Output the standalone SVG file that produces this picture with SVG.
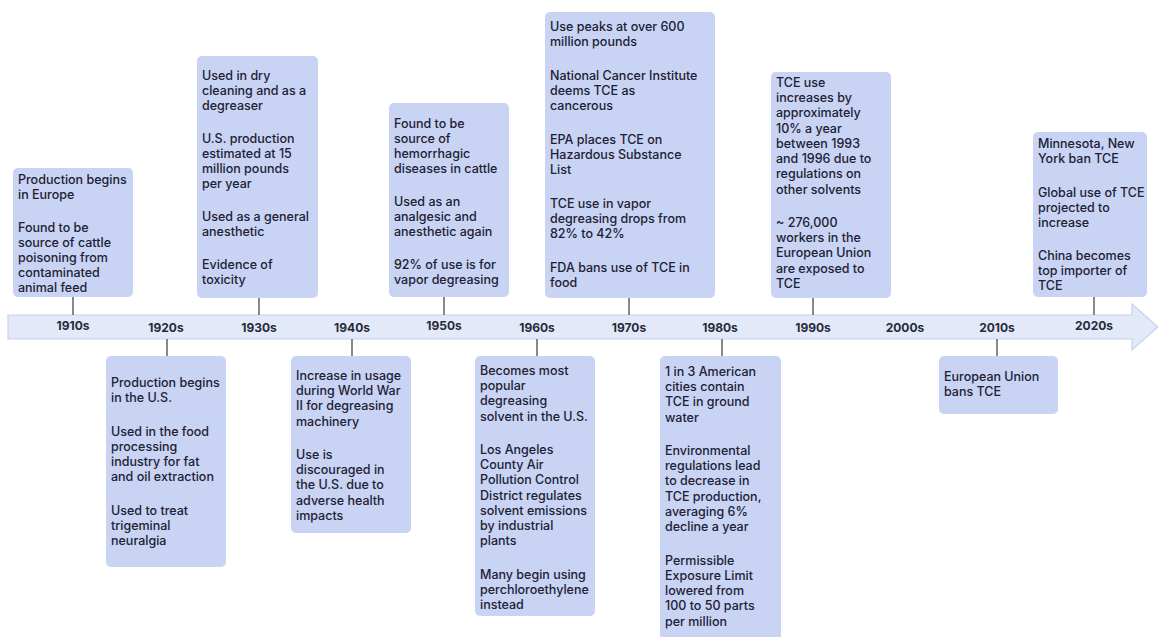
<svg xmlns="http://www.w3.org/2000/svg" width="1158" height="637" viewBox="0 0 1158 637">
<style>
.box{fill:#c9d3f4;}
.t{font-family:Inter,Roboto,"Liberation Sans",sans-serif;font-size:12.5px;font-weight:500;fill:#1c2133;}
.yr{font-family:Inter,Roboto,"Liberation Sans",sans-serif;font-size:12px;font-weight:700;fill:#262a3a;text-anchor:middle;}
.c{stroke:#4a4a4a;stroke-width:1.3;fill:none;}
</style>
<rect width="1158" height="637" fill="#ffffff"/>
<g id="timeline">
<path d="M8,315 H1132 V304 L1158,327 L1132,350 V339 H8 Z" fill="#e3e9f8" stroke="#c7d1ef" stroke-width="1.2"/>
<text class="yr" x="73" y="330">1910s</text>
<text class="yr" x="166" y="332">1920s</text>
<text class="yr" x="259" y="332">1930s</text>
<text class="yr" x="352" y="332">1940s</text>
<text class="yr" x="444" y="330">1950s</text>
<text class="yr" x="537" y="332">1960s</text>
<text class="yr" x="629" y="332">1970s</text>
<text class="yr" x="720" y="332">1980s</text>
<text class="yr" x="813" y="332">1990s</text>
<text class="yr" x="905" y="332">2000s</text>
<text class="yr" x="997" y="332">2010s</text>
<text class="yr" x="1094" y="330">2020s</text>
</g>
<g id="connectors">
<line class="c" x1="73" y1="297" x2="73" y2="315"/>
<line class="c" x1="259" y1="298" x2="259" y2="315"/>
<line class="c" x1="444" y1="297" x2="444" y2="315"/>
<line class="c" x1="629" y1="298" x2="629" y2="315"/>
<line class="c" x1="813" y1="298" x2="813" y2="315"/>
<line class="c" x1="1094" y1="297" x2="1094" y2="315"/>
<line class="c" x1="167" y1="339" x2="167" y2="356"/>
<line class="c" x1="352" y1="339" x2="352" y2="356"/>
<line class="c" x1="537" y1="339" x2="537" y2="356"/>
<line class="c" x1="722" y1="339" x2="722" y2="356"/>
<line class="c" x1="997" y1="339" x2="997" y2="356"/>
</g>
<g id="n1910s">
<rect class="box" x="13" y="168" width="120" height="129" rx="5"/>
<text class="t" x="18"><tspan x="18" y="184">Production begins</tspan><tspan x="18" y="199">in Europe</tspan><tspan x="18" y="232">Found to be</tspan><tspan x="18" y="247">source of cattle</tspan><tspan x="18" y="262">poisoning from</tspan><tspan x="18" y="277">contaminated</tspan><tspan x="18" y="292">animal feed</tspan></text>
</g>
<g id="n1930s">
<rect class="box" x="197" y="56" width="121" height="242" rx="5"/>
<text class="t"><tspan x="202" y="80">Used in dry</tspan><tspan x="202" y="95">cleaning and as a</tspan><tspan x="202" y="110">degreaser</tspan><tspan x="202" y="143">U.S. production</tspan><tspan x="202" y="158">estimated at 15</tspan><tspan x="202" y="173">million pounds</tspan><tspan x="202" y="188">per year</tspan><tspan x="202" y="221">Used as a general</tspan><tspan x="202" y="236">anesthetic</tspan><tspan x="202" y="269">Evidence of</tspan><tspan x="202" y="284">toxicity</tspan></text>
</g>
<g id="n1950s">
<rect class="box" x="389" y="103" width="120" height="194" rx="5"/>
<text class="t"><tspan x="394" y="128">Found to be</tspan><tspan x="394" y="143">source of</tspan><tspan x="394" y="158">hemorrhagic</tspan><tspan x="394" y="173">diseases in cattle</tspan><tspan x="394" y="206">Used as an</tspan><tspan x="394" y="221">analgesic and</tspan><tspan x="394" y="236">anesthetic again</tspan><tspan x="394" y="269">92% of use is for</tspan><tspan x="394" y="284">vapor degreasing</tspan></text>
</g>
<g id="n1970s">
<rect class="box" x="545" y="12" width="170" height="286" rx="5"/>
<text class="t"><tspan x="550" y="31">Use peaks at over 600</tspan><tspan x="550" y="46">million pounds</tspan><tspan x="550" y="79.5">National Cancer Institute</tspan><tspan x="550" y="94.7">deems TCE as</tspan><tspan x="550" y="110">cancerous</tspan><tspan x="550" y="143.5">EPA places TCE on</tspan><tspan x="550" y="158.7">Hazardous Substance</tspan><tspan x="550" y="174">List</tspan><tspan x="550" y="207.5">TCE use in vapor</tspan><tspan x="550" y="222.7">degreasing drops from</tspan><tspan x="550" y="238">82% to 42%</tspan><tspan x="550" y="271.5">FDA bans use of TCE in</tspan><tspan x="550" y="286.7">food</tspan></text>
</g>
<g id="n1990s">
<rect class="box" x="771" y="72" width="120" height="226" rx="5"/>
<text class="t"><tspan x="776" y="87">TCE use</tspan><tspan x="776" y="102">increases by</tspan><tspan x="776" y="117">approximately</tspan><tspan x="776" y="132.5">10% a year</tspan><tspan x="776" y="147.7">between 1993</tspan><tspan x="776" y="163">and 1996 due to</tspan><tspan x="776" y="178">regulations on</tspan><tspan x="776" y="193.5">other solvents</tspan><tspan x="776" y="227">~ 276,000</tspan><tspan x="776" y="242">workers in the</tspan><tspan x="776" y="257">European Union</tspan><tspan x="776" y="272.5">are exposed to</tspan><tspan x="776" y="287.5">TCE</tspan></text>
</g>
<g id="n2020s">
<rect class="box" x="1033" y="132" width="114" height="165" rx="5"/>
<text class="t"><tspan x="1038" y="148">Minnesota, New</tspan><tspan x="1038" y="163">York ban TCE</tspan><tspan x="1038" y="196.5">Global use of TCE</tspan><tspan x="1038" y="211.7">projected to</tspan><tspan x="1038" y="227">increase</tspan><tspan x="1038" y="260">China becomes</tspan><tspan x="1038" y="275">top importer of</tspan><tspan x="1038" y="290">TCE</tspan></text>
</g>
<g id="n1920s">
<rect class="box" x="106" y="356" width="120" height="211" rx="5"/>
<text class="t"><tspan x="111" y="387">Production begins</tspan><tspan x="111" y="402">in the U.S.</tspan><tspan x="111" y="435.5">Used in the food</tspan><tspan x="111" y="450.7">processing</tspan><tspan x="111" y="466">industry for fat</tspan><tspan x="111" y="481">and oil extraction</tspan><tspan x="111" y="514.5">Used to treat</tspan><tspan x="111" y="529.7">trigeminal</tspan><tspan x="111" y="545">neuralgia</tspan></text>
</g>
<g id="n1940s">
<rect class="box" x="291" y="356" width="120" height="177" rx="5"/>
<text class="t"><tspan x="296" y="380">Increase in usage</tspan><tspan x="296" y="395">during World War</tspan><tspan x="296" y="410">II for degreasing</tspan><tspan x="296" y="425.5">machinery</tspan><tspan x="296" y="459">Use is</tspan><tspan x="296" y="474">discouraged in</tspan><tspan x="296" y="489">the U.S. due to</tspan><tspan x="296" y="504.5">adverse health</tspan><tspan x="296" y="519.5">impacts</tspan></text>
</g>
<g id="n1960s">
<rect class="box" x="475" y="356" width="120" height="260" rx="5"/>
<text class="t"><tspan x="480" y="375">Becomes most</tspan><tspan x="480" y="390">popular</tspan><tspan x="480" y="405">degreasing</tspan><tspan x="480" y="420.5">solvent in the U.S.</tspan><tspan x="480" y="454">Los Angeles</tspan><tspan x="480" y="469">County Air</tspan><tspan x="480" y="484">Pollution Control</tspan><tspan x="480" y="499.5">District regulates</tspan><tspan x="480" y="514.7">solvent emissions</tspan><tspan x="480" y="530">by industrial</tspan><tspan x="480" y="545">plants</tspan><tspan x="480" y="578.5">Many begin using</tspan><tspan x="480" y="593.7">perchloroethylene</tspan><tspan x="480" y="609">instead</tspan></text>
</g>
<g id="n1980s">
<rect class="box" x="660" y="356" width="121" height="290" rx="5"/>
<text class="t"><tspan x="665" y="376">1 in 3 American</tspan><tspan x="665" y="391">cities contain</tspan><tspan x="665" y="406">TCE in ground</tspan><tspan x="665" y="421.5">water</tspan><tspan x="665" y="455">Environmental</tspan><tspan x="665" y="470">regulations lead</tspan><tspan x="665" y="485">to decrease in</tspan><tspan x="665" y="500.5">TCE production,</tspan><tspan x="665" y="515.7">averaging 6%</tspan><tspan x="665" y="531">decline a year</tspan><tspan x="665" y="564.5">Permissible</tspan><tspan x="665" y="579.7">Exposure Limit</tspan><tspan x="665" y="595">lowered from</tspan><tspan x="665" y="610">100 to 50 parts</tspan><tspan x="665" y="625.5">per million</tspan></text>
</g>
<g id="n2010s">
<rect class="box" x="939" y="356" width="119" height="58" rx="5"/>
<text class="t"><tspan x="944" y="381">European Union</tspan><tspan x="944" y="396">bans TCE</tspan></text>
</g>
</svg>
